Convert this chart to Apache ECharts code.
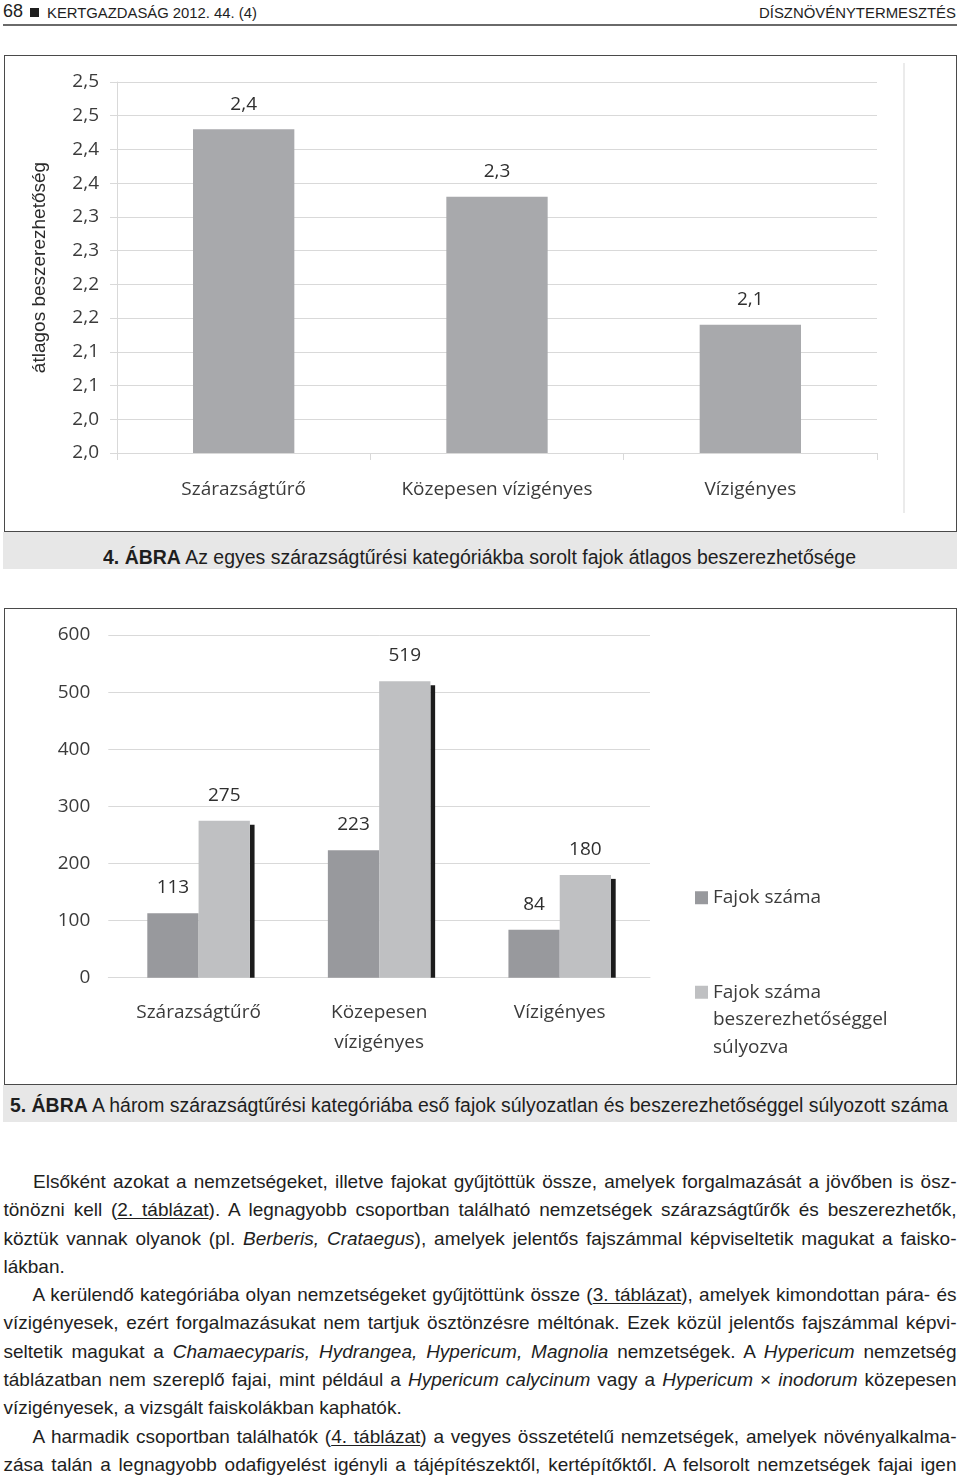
<!DOCTYPE html>
<html>
<head>
<meta charset="utf-8">
<script src="https://cdn.jsdelivr.net/npm/echarts@6/dist/echarts.min.js"></script>
<style>
html,body{margin:0;padding:0;background:#fff;}
body{width:960px;height:1477px;position:relative;overflow:hidden;font-family:'Liberation Sans',Arial,sans-serif;color:#1e1e1e;}
.t{position:absolute;white-space:nowrap;transform-origin:0 0;}
.box{position:absolute;box-sizing:border-box;border:1.5px solid #4a4a4a;background:#fff;}
.band{position:absolute;background:#e7e7e7;}
.chart{position:absolute;left:0;width:960px;}
u{text-decoration-thickness:1px;text-underline-offset:2px;}
</style>
</head>
<body>
<!-- header -->
<div class="t" data-m="fit" data-x="3" data-x2="23" data-b="17.5" data-fs="18.6">68</div>
<div style="position:absolute;left:30px;top:8px;width:9px;height:8.5px;background:#1e1e1e;"></div>
<div class="t" data-m="fit" data-x="47" data-x2="257" data-b="17.5" data-fs="15">KERTGAZDASÁG 2012. 44. (4)</div>
<div class="t" data-m="fit" data-x="759" data-x2="956" data-b="17.5" data-fs="15">DÍSZNÖVÉNYTERMESZTÉS</div>
<div style="position:absolute;left:3px;top:24px;width:954px;height:2px;background:#6a6a6a;"></div>

<!-- figure 4 -->
<div class="box" style="left:4px;top:55px;width:953px;height:477px;"></div>
<div class="band" style="left:3px;top:532px;width:954px;height:37px;"></div>
<div class="t" data-m="fit" data-x="103" data-x2="856" data-b="564" data-fs="19.5"><b>4. ÁBRA</b> Az egyes szárazságtűrési kategóriákba sorolt fajok átlagos beszerezhetősége</div>

<!-- figure 5 -->
<div class="box" style="left:4px;top:608px;width:953px;height:477px;"></div>
<div class="band" style="left:3px;top:1085px;width:954px;height:37px;"></div>
<div class="t" data-m="fit" data-x="10" data-x2="948" data-b="1112" data-fs="19.5"><b>5. ÁBRA</b> A három szárazságtűrési kategóriába eső fajok súlyozatlan és beszerezhetőséggel súlyozott száma</div>

<!-- body text -->
<div class="t para" data-m="just" data-x="33" data-x2="956.5" data-b="1188.5" data-fs="19">Elsőként azokat a nemzetségeket, illetve fajokat gyűjtöttük össze, amelyek forgalmazását a jövőben is ösz-</div>
<div class="t para" data-m="just" data-x="3.5" data-x2="956.5" data-b="1216.8" data-fs="19">tönözni kell (<u>2. táblázat</u>). A legnagyobb csoportban található nemzetségek szárazságtűrők és beszerezhetők,</div>
<div class="t para" data-m="just" data-x="3.5" data-x2="956.5" data-b="1245.1" data-fs="19">köztük vannak olyanok (pl. <i>Berberis, Crataegus</i>), amelyek jelentős fajszámmal képviseltetik magukat a faisko-</div>
<div class="t para" data-m="none" data-x="3.5" data-x2="956.5" data-b="1273.4" data-fs="19">lákban.</div>
<div class="t para" data-m="just" data-x="32.5" data-x2="956.5" data-b="1301.7" data-fs="19">A kerülendő kategóriába olyan nemzetségeket gyűjtöttünk össze (<u>3. táblázat</u>), amelyek kimondottan pára- és</div>
<div class="t para" data-m="just" data-x="3.5" data-x2="956.5" data-b="1330" data-fs="19">vízigényesek, ezért forgalmazásukat nem tartjuk ösztönzésre méltónak. Ezek közül jelentős fajszámmal képvi-</div>
<div class="t para" data-m="just" data-x="3.5" data-x2="956.5" data-b="1358.3" data-fs="19">seltetik magukat a <i>Chamaecyparis, Hydrangea, Hypericum, Magnolia</i> nemzetségek. A <i>Hypericum</i> nemzetség</div>
<div class="t para" data-m="just" data-x="3.5" data-x2="956.5" data-b="1386.6" data-fs="19">táblázatban nem szereplő fajai, mint például a <i>Hypericum calycinum</i> vagy a <i>Hypericum</i> × <i>inodorum</i> közepesen</div>
<div class="t para" data-m="none" data-x="3.5" data-x2="956.5" data-b="1414.9" data-fs="19">vízigényesek, a vizsgált faiskolákban kaphatók.</div>
<div class="t para" data-m="just" data-x="32.5" data-x2="956.5" data-b="1443.2" data-fs="19">A harmadik csoportban találhatók (<u>4. táblázat</u>) a vegyes összetételű nemzetségek, amelyek növényalkalma-</div>
<div class="t para" data-m="just" data-x="3.5" data-x2="956.5" data-b="1471.5" data-fs="19">zása talán a legnagyobb odafigyelést igényli a tájépítészektől, kertépítőktől. A felsorolt nemzetségek fajai igen</div>

<div id="c1" class="chart" style="top:40px;height:500px;"></div>
<div id="c2" class="chart" style="top:600px;height:490px;"></div>

<script>
// ---------- data: figure 4 ----------
const categories1 = ['Szárazságtűrő', 'Közepesen vízigényes', 'Vízigényes'];
const availability1 = [2.48, 2.38, 2.19];
const availabilityLabels1 = ['2,4', '2,3', '2,1'];
const yTickLabels1 = ['2,0', '2,0', '2,1', '2,1', '2,2', '2,2', '2,3', '2,3', '2,4', '2,4', '2,5', '2,5'];
const yMin1 = 2.0, yMax1 = 2.55, yStep1 = 0.05;
const yName1 = 'átlagos beszerezhetőség';

// ---------- data: figure 5 ----------
const categories2 = ['Szárazságtűrő', 'Közepesen\nvízigényes', 'Vízigényes'];
const seriesNames2 = ['Fajok száma', 'Fajok száma beszerezhetőséggel súlyozva'];
const speciesCount2 = [113, 223, 84];
const weightedCount2 = [275, 519, 180];
const yTickLabels2 = ['0', '100', '200', '300', '400', '500', '600'];
const yMin2 = 0, yMax2 = 600, yStep2 = 100;

// ---------- text layout ----------
function layoutText(el) {
  const fs = +el.dataset.fs, x1 = +el.dataset.x, x2 = +el.dataset.x2, base = +el.dataset.b;
  const mode = el.dataset.m;
  el.style.fontSize = fs + 'px';
  el.style.lineHeight = (fs * 1.15) + 'px';
  el.style.left = x1 + 'px';
  el.style.top = (base - 0.9215 * fs) + 'px';
  const w = el.getBoundingClientRect().width;
  const target = x2 - x1;
  if (mode === 'fit') {
    el.style.transform = 'scaleX(' + (target / w) + ')';
  } else if (mode === 'just') {
    if (w >= target) {
      el.style.transform = 'scaleX(' + (target / w) + ')';
    } else {
      const n = (el.textContent.match(/ /g) || []).length;
      el.style.wordSpacing = ((target - w) / n) + 'px';
    }
  }
}
document.querySelectorAll('.t').forEach(layoutText);

// ---------- chart 1 ----------
const FONT = "'Open Sans', 'Noto Sans', sans-serif";
const LABEL_COLOR = '#3b3b3b';
const GRID_COLOR = '#d9d9d9';

const chart1 = echarts.init(document.getElementById('c1'), null, {renderer: 'canvas'});
chart1.setOption({
  animation: false,
  grid: {left: 117, right: 83, top: 42, bottom: 87, containLabel: false, outerBoundsMode: 'none'},
  xAxis: {
    type: 'category',
    data: categories1,
    boundaryGap: true,
    axisLine: {show: true, lineStyle: {color: GRID_COLOR, width: 1}},
    axisTick: {show: true, length: 7, lineStyle: {color: GRID_COLOR}},
    axisLabel: {fontFamily: FONT, fontSize: 19, color: LABEL_COLOR, margin: 25, lineHeight: 24}
  },
  yAxis: {
    type: 'value',
    min: yMin1, max: yMax1, interval: yStep1,
    name: yName1,
    nameLocation: 'middle',
    nameRotate: 90,
    nameGap: 68,
    nameTextStyle: {fontFamily: "'Liberation Sans', Arial, sans-serif", fontSize: 19, color: '#2a2a2a'},
    axisLine: {show: true, lineStyle: {color: GRID_COLOR}},
    axisTick: {show: true, length: 7, lineStyle: {color: GRID_COLOR}},
    splitLine: {show: true, lineStyle: {color: GRID_COLOR, width: 1}},
    axisLabel: {
      fontFamily: FONT, fontSize: 19, color: LABEL_COLOR, margin: 18,
      formatter: function (v, i) { return yTickLabels1[i]; }
    }
  },
  graphic: [{
    type: 'line', silent: true,
    shape: {x1: 904, y1: 23, x2: 904, y2: 473},
    style: {stroke: '#e4e4e4', lineWidth: 1.5}
  }],
  series: [{
    type: 'bar',
    data: availability1,
    barWidth: '40%',
    itemStyle: {color: '#a8a9ac'},
    label: {
      show: true, position: 'top', distance: 13,
      fontFamily: FONT, fontSize: 19, color: '#2f2f2f', lineHeight: 24,
      formatter: function (p) { return availabilityLabels1[p.dataIndex]; }
    }
  }]
});

// ---------- chart 2 ----------
const BAR_PCT = 0.284;
const chart2 = echarts.init(document.getElementById('c2'), null, {renderer: 'canvas'});
chart2.setOption({
  animation: false,
  grid: {left: 108.3, right: 310, top: 35, bottom: 112.3, containLabel: false, outerBoundsMode: 'none'},
  legend: [{
    data: [seriesNames2[0]],
    orient: 'vertical', left: 695, top: 284, padding: 0,
    icon: 'rect', itemWidth: 13, itemHeight: 13,
    textStyle: {fontFamily: FONT, fontSize: 19, color: LABEL_COLOR, lineHeight: 27.5}
  }, {
    data: [seriesNames2[1]],
    orient: 'vertical', left: 695, top: 323.5, padding: 0,
    icon: 'rect', itemWidth: 13, itemHeight: 13,
    // two leading empty lines put the first text line level with the icon
    formatter: function (name) { return '\n\n' + name.replace(' besz', '\nbesz').replace(' súly', '\nsúly'); },
    textStyle: {fontFamily: FONT, fontSize: 19, color: LABEL_COLOR, lineHeight: 27.5}
  }],
  xAxis: {
    type: 'category',
    data: categories2,
    axisLine: {show: true, lineStyle: {color: GRID_COLOR}},
    axisTick: {show: false},
    axisLabel: {fontFamily: FONT, fontSize: 19, color: LABEL_COLOR, margin: 20.5, lineHeight: 29.5}
  },
  yAxis: {
    type: 'value',
    min: yMin2, max: yMax2, interval: yStep2,
    axisLine: {show: false},
    axisTick: {show: false},
    splitLine: {show: true, lineStyle: {color: GRID_COLOR, width: 1}},
    axisLabel: {
      fontFamily: FONT, fontSize: 19, color: LABEL_COLOR, margin: 18,
      formatter: function (v, i) { return yTickLabels2[i]; }
    }
  },
  series: [{
    name: seriesNames2[0],
    type: 'bar',
    data: speciesCount2,
    barWidth: (BAR_PCT * 100) + '%',
    barGap: '0%',
    itemStyle: {color: '#98999d'},
    label: {show: true, position: 'top', distance: 13.5, fontFamily: FONT, fontSize: 19, color: '#2f2f2f', lineHeight: 24}
  }, {
    name: seriesNames2[1],
    type: 'bar',
    data: weightedCount2,
    barWidth: (BAR_PCT * 100) + '%',
    barGap: '0%',
    itemStyle: {color: '#bfc0c2'},
    label: {show: true, position: 'top', distance: 13.5, fontFamily: FONT, fontSize: 19, color: '#2f2f2f', lineHeight: 24}
  }, {
    name: 'shadow',
    type: 'custom',
    silent: true,
    z: 1,
    data: weightedCount2.map(function (v, i) { return [i, v]; }),
    renderItem: function (params, api) {
      const ci = api.value(0), v = api.value(1);
      const top = api.coord([ci, v]);
      const base = api.coord([ci, 0]);
      const band = api.size([1, 0])[0];
      const bw = band * BAR_PCT;
      return {
        type: 'rect',
        shape: {x: top[0] + bw, y: top[1] + 4, width: 4.7, height: base[1] - top[1] - 4},
        style: {fill: '#1c1c1c'}
      };
    }
  }]
});
</script>
</body>
</html>
